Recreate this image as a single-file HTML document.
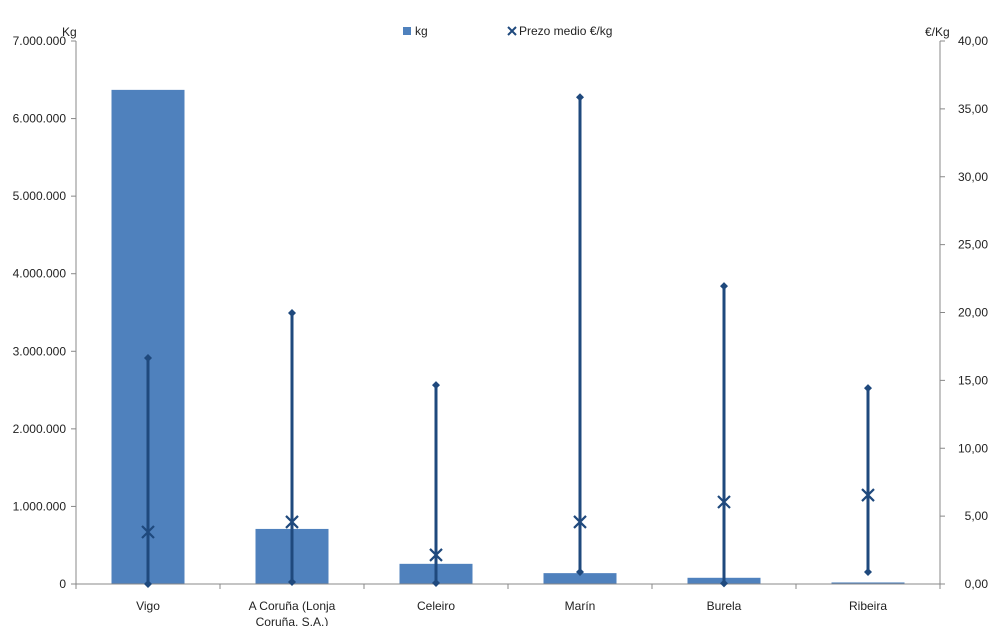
<!DOCTYPE html>
<html><head><meta charset="utf-8"><style>
body{margin:0;background:#fff;}
svg text{font-family:"Liberation Sans",sans-serif;font-size:12px;fill:#222;}
</style></head><body>
<svg id="c" width="993" height="626" xmlns="http://www.w3.org/2000/svg"></svg>
<script>
const categories=["Vigo","A Coruña (Lonja|Coruña, S.A.)","Celeiro","Marín","Burela","Ribeira"];
const kgValues=[6370000,710000,260000,140000,80000,20000];
const priceMax=[16.65,19.96,14.65,35.86,21.94,14.43];
const priceMin=[0,0.15,0.07,0.88,0.05,0.88];
const priceMean=[3.83,4.57,2.14,4.57,6.04,6.55];
const leftTicks=[0,1000000,2000000,3000000,4000000,5000000,6000000,7000000];
const rightTicks=[0,5,10,15,20,25,30,35,40];
const NS="http://www.w3.org/2000/svg";
const svg=document.getElementById('c');
const X0=76,X1=940,Y0=584,Y1=41;
const yL=v=>Y0-(v/7000000)*(Y0-Y1);
const yR=v=>Y0-(v/40)*(Y0-Y1);
const bw=(X1-X0)/categories.length;
const xc=i=>X0+bw*(i+0.5);
function mk(t,a,txt){const e=document.createElementNS(NS,t);for(const k in a)e.setAttribute(k,a[k]);if(txt!==undefined)e.textContent=txt;svg.appendChild(e);return e;}
const fmt=v=>v.toString().replace(/\B(?=(\d{3})+(?!\d))/g,".");
kgValues.forEach((v,i)=>{const e=mk('rect',{x:xc(i)-36.5,y:yL(v),width:73,height:Y0-yL(v),fill:'#4f81bd'});

});
let a=mk('line',{x1:X0,y1:Y1,x2:X0,y2:Y0,stroke:'#888'});
a=mk('line',{x1:X1,y1:Y1,x2:X1,y2:Y0,stroke:'#888'});
a=mk('line',{x1:X0,y1:Y0,x2:X1,y2:Y0,stroke:'#888'});
leftTicks.forEach(v=>{mk('line',{x1:X0-5,y1:yL(v),x2:X0,y2:yL(v),stroke:'#888'});
const t=mk('text',{x:X0-10,y:yL(v)+4,'text-anchor':'end'},fmt(v));

});
rightTicks.forEach(v=>{mk('line',{x1:X1,y1:yR(v),x2:X1+5,y2:yR(v),stroke:'#888'});
const t=mk('text',{x:X1+48,y:yR(v)+4,'text-anchor':'end'},v.toFixed(2).replace('.',','));

});
for(let i=0;i<=categories.length;i++)mk('line',{x1:X0+bw*i,y1:Y0,x2:X0+bw*i,y2:Y0+5,stroke:'#888'});
categories.forEach((c,i)=>{c.split('|').forEach((p,j)=>{const t=mk('text',{x:xc(i),y:610+j*16,'text-anchor':'middle'},p);

});});
const lc='#1f497d';
categories.forEach((c,i)=>{const x=xc(i);
const l=mk('line',{x1:x,y1:yR(priceMin[i]),x2:x,y2:yR(priceMax[i]),stroke:lc,'stroke-width':3});


[priceMin[i],priceMax[i]].forEach(v=>{const y=yR(v);const d=mk('path',{d:`M${x} ${y-4}L${x+4} ${y}L${x} ${y+4}L${x-4} ${y}Z`,fill:lc});

});
const y=yR(priceMean[i]);
const m=mk('path',{d:`M${x-6} ${y-6}L${x+6} ${y+6}M${x+6} ${y-6}L${x-6} ${y+6}`,stroke:lc,'stroke-width':2.2});

});
let t=mk('text',{x:62,y:36},'Kg');
t=mk('text',{x:925,y:36},'€/Kg');
let r=mk('rect',{x:403,y:27,width:8,height:8,fill:'#4f81bd'});
t=mk('text',{x:415,y:35},'kg');
r=mk('path',{d:'M508 27L516 35M516 27L508 35',stroke:lc,'stroke-width':2});
t=mk('text',{x:519,y:35},'Prezo medio €/kg');
</script>
</body></html>
